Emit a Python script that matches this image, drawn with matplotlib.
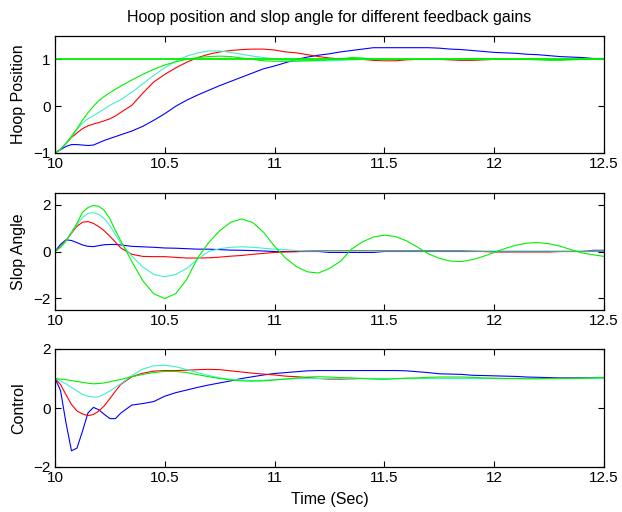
import matplotlib
matplotlib.use("Agg")
import matplotlib.pyplot as plt

plt.rcParams['font.family'] = ['Liberation Sans', 'DejaVu Sans']

time_s = [10.000, 10.025, 10.050, 10.075, 10.100, 10.125, 10.150, 10.175, 10.200, 10.225, 10.250, 10.275, 10.300,
          10.35, 10.40, 10.45, 10.50, 10.55, 10.60, 10.65, 10.70, 10.75, 10.80, 10.85, 10.90, 10.95, 11.00,
          11.05, 11.10, 11.15, 11.20, 11.25, 11.30, 11.35, 11.40, 11.45, 11.50,
          11.55, 11.60, 11.65, 11.70, 11.75, 11.80, 11.85, 11.90, 11.95, 12.00,
          12.05, 12.10, 12.15, 12.20, 12.25, 12.30, 12.35, 12.40, 12.45, 12.50]

hoop_reference = 1.0

hoop_blue = [-1.00, -0.93, -0.86, -0.82, -0.82, -0.83, -0.84, -0.83, -0.78, -0.73, -0.69, -0.65, -0.61,
             -0.53, -0.43, -0.30, -0.16, 0.00, 0.13, 0.24, 0.34, 0.44, 0.53, 0.62, 0.71, 0.80, 0.86,
             0.93, 1.00, 1.05, 1.09, 1.12, 1.16, 1.19, 1.22, 1.25, 1.25,
             1.25, 1.25, 1.25, 1.25, 1.24, 1.22, 1.21, 1.19, 1.17, 1.15,
             1.14, 1.13, 1.11, 1.10, 1.08, 1.06, 1.05, 1.04, 1.02, 1.02]
hoop_red = [-1.00, -0.92, -0.80, -0.67, -0.57, -0.48, -0.42, -0.38, -0.35, -0.31, -0.27, -0.21, -0.13,
            0.02, 0.28, 0.52, 0.68, 0.82, 0.94, 1.04, 1.11, 1.16, 1.19, 1.21, 1.22, 1.22, 1.20,
            1.16, 1.14, 1.10, 1.06, 1.03, 1.01, 1.01, 1.00, 0.98, 0.97,
            0.97, 0.99, 1.00, 1.00, 1.00, 0.99, 0.98, 0.98, 0.99, 1.00,
            1.00, 1.00, 1.00, 1.00, 1.00, 1.00, 1.00, 1.00, 1.00, 1.00]
hoop_cyan = [-1.00, -0.92, -0.80, -0.66, -0.50, -0.36, -0.27, -0.20, -0.13, -0.06, 0.02, 0.08, 0.14,
             0.30, 0.48, 0.66, 0.82, 0.96, 1.07, 1.14, 1.18, 1.18, 1.15, 1.11, 1.07, 1.04, 1.01,
             0.99, 0.98, 0.97, 0.97, 0.97, 0.98, 0.99, 1.00, 1.00, 1.00,
             1.00, 1.00, 1.00, 1.00, 1.00, 1.00, 1.00, 1.00, 1.00, 1.00,
             1.00, 1.00, 1.00, 1.00, 1.00, 1.00, 1.00, 1.00, 1.00, 1.00]
hoop_green = [-1.00, -0.92, -0.79, -0.64, -0.48, -0.30, -0.14, 0.00, 0.12, 0.21, 0.29, 0.36, 0.43,
              0.56, 0.68, 0.79, 0.88, 0.95, 1.00, 1.04, 1.06, 1.07, 1.06, 1.03, 1.00, 0.97, 0.96,
              0.96, 0.96, 0.97, 0.98, 0.99, 1.01, 1.04, 1.03, 1.00, 0.99,
              1.00, 1.00, 1.00, 1.00, 1.00, 1.00, 1.01, 1.02, 1.02, 1.01,
              1.00, 1.00, 1.00, 0.99, 0.98, 0.98, 0.99, 1.00, 1.00, 1.00]

slope_blue = [0.00, 0.30, 0.50, 0.47, 0.38, 0.28, 0.22, 0.21, 0.25, 0.29, 0.30, 0.30, 0.28,
              0.22, 0.20, 0.18, 0.15, 0.14, 0.12, 0.10, 0.10, 0.08, 0.06, 0.05, 0.04, 0.02, 0.00,
              0.00, 0.00, 0.00, 0.00, -0.04, -0.04, -0.04, -0.04, -0.04, 0.00,
              0.00, 0.00, 0.00, 0.00, 0.00, 0.00, 0.00, 0.00, 0.00, 0.00,
              0.00, 0.00, 0.00, 0.00, 0.00, 0.00, 0.00, 0.00, 0.05, 0.05]
slope_red = [0.00, 0.20, 0.48, 0.78, 1.08, 1.25, 1.28, 1.20, 1.06, 0.88, 0.65, 0.40, 0.15,
             -0.12, -0.21, -0.22, -0.22, -0.25, -0.28, -0.28, -0.27, -0.24, -0.20, -0.17, -0.12, -0.08, -0.04,
             -0.02, -0.01, 0.03, 0.04, 0.04, 0.04, 0.04, 0.04, 0.04, 0.04,
             0.04, 0.04, 0.04, 0.04, 0.04, 0.04, 0.04, 0.02, 0.00, -0.02,
             -0.02, -0.02, -0.02, -0.02, -0.02, 0.00, 0.00, 0.00, 0.00, 0.00]
slope_cyan = [0.00, 0.18, 0.45, 0.80, 1.15, 1.45, 1.63, 1.66, 1.58, 1.40, 1.10, 0.72, 0.35,
              -0.20, -0.66, -0.98, -1.08, -0.98, -0.72, -0.32, 0.00, 0.12, 0.18, 0.20, 0.18, 0.14, 0.10,
              0.08, 0.04, 0.02, 0.02, 0.02, 0.02, 0.02, 0.02, 0.02, 0.02,
              0.02, 0.02, 0.02, 0.02, 0.02, 0.02, 0.02, 0.02, 0.02, 0.02,
              0.02, 0.02, 0.02, 0.02, 0.02, 0.02, 0.02, 0.02, 0.02, 0.02]
slope_green = [0.00, 0.18, 0.45, 0.82, 1.20, 1.68, 1.88, 1.97, 1.93, 1.75, 1.40, 0.90, 0.45,
               -0.43, -1.25, -1.81, -2.01, -1.80, -1.19, -0.27, 0.38, 0.89, 1.25, 1.39, 1.24, 0.82, 0.22,
               -0.28, -0.65, -0.87, -0.92, -0.72, -0.42, 0.10, 0.41, 0.62, 0.70,
               0.64, 0.46, 0.19, -0.10, -0.29, -0.41, -0.43, -0.35, -0.21, -0.04,
               0.13, 0.27, 0.36, 0.38, 0.33, 0.23, 0.08, -0.06, -0.14, -0.21]

control_blue = [1.00, 0.60, -0.50, -1.45, -1.36, -0.79, -0.17, 0.02, -0.06, -0.22, -0.36, -0.36, -0.17,
                0.10, 0.15, 0.22, 0.40, 0.52, 0.61, 0.70, 0.78, 0.85, 0.92, 1.00, 1.06, 1.12, 1.17,
                1.20, 1.23, 1.26, 1.27, 1.27, 1.27, 1.27, 1.27, 1.27, 1.27,
                1.27, 1.26, 1.23, 1.20, 1.16, 1.15, 1.14, 1.11, 1.10, 1.09,
                1.08, 1.07, 1.05, 1.04, 1.03, 1.02, 1.02, 1.02, 1.02, 1.02]
control_red = [1.00, 0.80, 0.45, 0.12, -0.10, -0.20, -0.26, -0.22, -0.10, 0.08, 0.32, 0.57, 0.80,
               1.06, 1.18, 1.25, 1.27, 1.27, 1.28, 1.30, 1.31, 1.30, 1.26, 1.22, 1.18, 1.15, 1.12,
               1.08, 1.06, 1.03, 1.00, 0.98, 0.98, 0.99, 1.00, 1.00, 1.00,
               1.00, 1.00, 1.00, 1.00, 1.00, 1.00, 1.00, 1.00, 1.00, 1.00,
               1.00, 1.00, 1.00, 1.00, 1.00, 1.00, 1.00, 1.00, 1.00, 1.00]
control_cyan = [1.00, 0.92, 0.82, 0.70, 0.58, 0.46, 0.40, 0.37, 0.38, 0.47, 0.58, 0.70, 0.82,
                1.10, 1.32, 1.43, 1.45, 1.40, 1.30, 1.20, 1.10, 1.02, 0.97, 0.95, 0.93, 0.94, 0.96,
                0.98, 1.00, 1.00, 1.00, 1.00, 1.00, 1.00, 1.00, 1.00, 1.00,
                1.00, 1.00, 1.00, 1.00, 1.00, 1.00, 1.00, 1.00, 1.00, 1.00,
                1.00, 1.00, 1.00, 1.00, 1.00, 1.00, 1.00, 1.00, 1.00, 1.00]
control_green = [1.00, 0.98, 0.96, 0.93, 0.90, 0.87, 0.84, 0.82, 0.83, 0.85, 0.89, 0.93, 0.97,
                 1.06, 1.14, 1.20, 1.24, 1.24, 1.20, 1.13, 1.06, 1.00, 0.95, 0.92, 0.91, 0.92, 0.95,
                 0.98, 1.02, 1.05, 1.06, 1.05, 1.03, 1.02, 1.00, 0.98, 0.97,
                 0.99, 1.01, 1.02, 1.04, 1.05, 1.05, 1.05, 1.04, 1.02, 1.01,
                 1.00, 1.00, 0.99, 0.99, 1.00, 1.00, 1.00, 1.01, 1.02, 1.04]

x_ticks = [10, 10.5, 11, 11.5, 12, 12.5]
x_tick_labels = ['10', '10.5', '11', '11.5', '12', '12.5']
hoop_ticks = [-1, 0, 1]
slope_ticks = [-2, 0, 2]
control_ticks = [-2, 0, 2]

title_text = 'Hoop position and slop angle for different feedback gains'
xlabel_text = 'Time (Sec)'
ylabels = ['Hoop Position', 'Slop Angle', 'Control']

C_BLUE = '#0000FF'
C_RED = '#FF0000'
C_CYAN = '#40F0C8'
C_GREEN = '#00F000'
LW = 0.8

W, H = 622, 512
fig = plt.figure(figsize=(W / 100, H / 100), dpi=100)
fig.patch.set_facecolor('white')


def px_axes(left, top, right, bottom):
    return fig.add_axes([left / W, 1 - bottom / H, (right - left) / W, (bottom - top) / H])


ax1 = px_axes(55, 36, 604, 153)
ax2 = px_axes(55, 193, 604, 310)
ax3 = px_axes(55, 349, 604, 467)

ax1.plot(time_s, hoop_blue, color=C_BLUE, lw=LW)
ax1.plot(time_s, hoop_red, color=C_RED, lw=LW)
ax1.plot(time_s, hoop_cyan, color=C_CYAN, lw=LW)
ax1.plot(time_s, hoop_green, color=C_GREEN, lw=LW)
ax1.axhline(hoop_reference, color=C_GREEN, lw=1.3)
ax1.set_ylim(-1, 1.5)
ax1.set_yticks(hoop_ticks)

ax2.plot(time_s, slope_blue, color=C_BLUE, lw=LW)
ax2.plot(time_s, slope_red, color=C_RED, lw=LW)
ax2.plot(time_s, slope_cyan, color=C_CYAN, lw=LW)
ax2.plot(time_s, slope_green, color=C_GREEN, lw=LW)
ax2.set_ylim(-2.5, 2.5)
ax2.set_yticks(slope_ticks)

ax3.plot(time_s, control_blue, color=C_BLUE, lw=LW)
ax3.plot(time_s, control_red, color=C_RED, lw=LW)
ax3.plot(time_s, control_cyan, color=C_CYAN, lw=LW)
ax3.plot(time_s, control_green, color=C_GREEN, lw=LW)
ax3.set_ylim(-2, 2)
ax3.set_yticks(control_ticks)

for ax, lab in zip([ax1, ax2, ax3], ylabels):
    ax.set_xlim(10, 12.5)
    ax.set_xticks(x_ticks)
    ax.set_xticklabels(x_tick_labels)
    ax.tick_params(direction='in', top=True, right=True, length=4, width=0.8,
                   labelsize=11, pad=3, colors='black')
    for s in ax.spines.values():
        s.set_linewidth(0.9)
        s.set_color('black')
    ax.set_ylabel(lab, fontsize=11.5)
    ax.yaxis.set_label_coords(-0.052, 0.5)

ax1.set_title(title_text, fontsize=11.5, pad=10)
ax3.set_xlabel(xlabel_text, fontsize=11.5, labelpad=5)

fig.savefig('out.png', dpi=100, facecolor='white')
